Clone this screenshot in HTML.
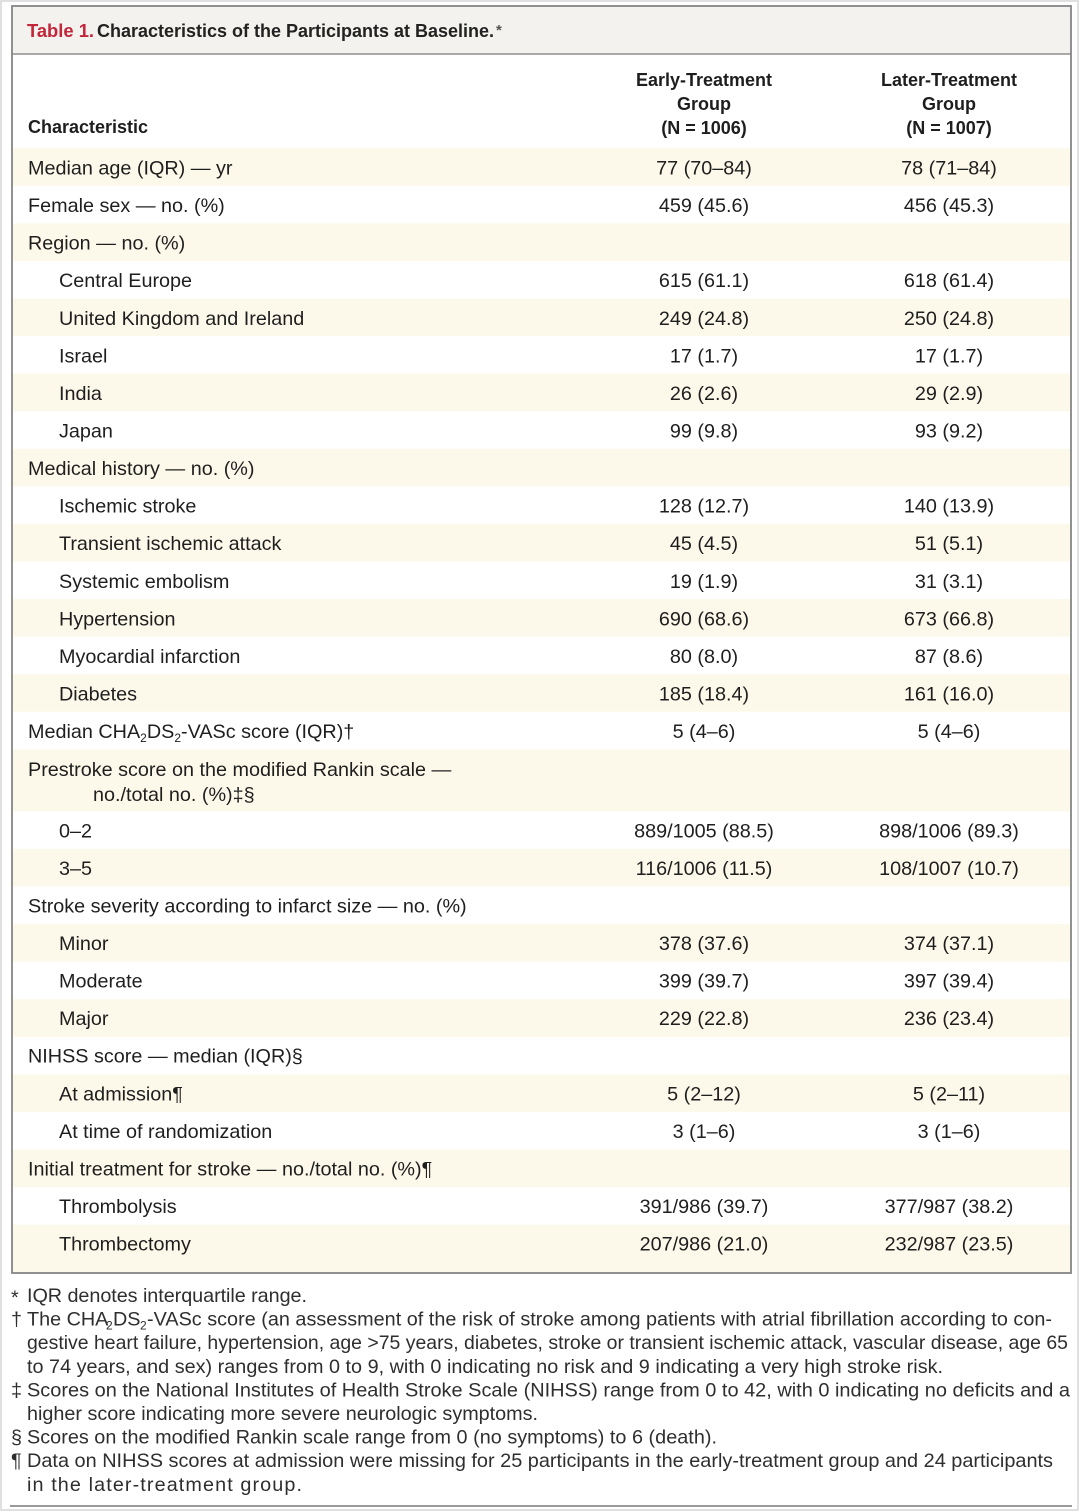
<!DOCTYPE html>
<html>
<head>
<meta charset="utf-8">
<style>
  html, body { margin:0; padding:0; background:#ffffff; }
  body { width:1080px; height:1512px; overflow:hidden; }
  svg { display:block; }
  text { font-family: "Liberation Sans", "DejaVu Sans", sans-serif; }
</style>
</head>
<body>
<svg width="1080" height="1512" viewBox="0 0 1080 1512" xmlns="http://www.w3.org/2000/svg">
  <!-- outer faint frame -->
  <rect x="1" y="1" width="1077" height="1509" fill="#ffffff" stroke="#d6d6d6" stroke-width="1.5"/>

  <!-- row stripes (cream) -->
  <g fill="#fdf9ea">
    <rect x="13" y="148.2" width="1057" height="37.6"/>
    <rect x="13" y="223.3" width="1057" height="37.6"/>
    <rect x="13" y="298.5" width="1057" height="37.6"/>
    <rect x="13" y="373.6" width="1057" height="37.6"/>
    <rect x="13" y="448.8" width="1057" height="37.6"/>
    <rect x="13" y="523.9" width="1057" height="37.6"/>
    <rect x="13" y="599.0" width="1057" height="37.6"/>
    <rect x="13" y="674.2" width="1057" height="37.6"/>
    <rect x="13" y="749.3" width="1057" height="62.0"/>
    <rect x="13" y="848.9" width="1057" height="37.6"/>
    <rect x="13" y="924.0" width="1057" height="37.6"/>
    <rect x="13" y="999.2" width="1057" height="37.6"/>
    <rect x="13" y="1074.3" width="1057" height="37.6"/>
    <rect x="13" y="1149.5" width="1057" height="37.6"/>
    <rect x="13" y="1224.6" width="1057" height="48.4"/>
  </g>

  <!-- title band -->
  <rect x="12" y="6" width="1059" height="48" fill="#f4f2ee"/>
  <line x1="12" y1="54" x2="1071" y2="54" stroke="#8e8e8e" stroke-width="1.5"/>
  <!-- table box -->
  <rect x="12" y="6" width="1059" height="1267" fill="none" stroke="#858585" stroke-width="1.8"/>

  <!-- title -->
  <text x="27" y="37" font-size="18.5" font-weight="bold" fill="#c3263b" textLength="67" lengthAdjust="spacingAndGlyphs">Table 1.</text>
  <text x="97" y="37" font-size="18.5" font-weight="bold" fill="#222" textLength="397" lengthAdjust="spacingAndGlyphs">Characteristics of the Participants at Baseline.</text>
  <text x="496" y="35" font-size="15" font-weight="bold" fill="#555">*</text>

  <!-- header -->
  <g font-size="18" font-weight="bold" fill="#1e1e1e">
    <text x="28" y="133">Characteristic</text>
    <text x="704" y="86" text-anchor="middle">Early-Treatment</text>
    <text x="704" y="110" text-anchor="middle">Group</text>
    <text x="704" y="134" text-anchor="middle">(N = 1006)</text>
    <text x="949" y="86" text-anchor="middle">Later-Treatment</text>
    <text x="949" y="110" text-anchor="middle">Group</text>
    <text x="949" y="134" text-anchor="middle">(N = 1007)</text>
  </g>

  <!-- body -->
  <g font-size="19.8" fill="#1e1e1e">
    <text x="28" y="174.5">Median age (IQR) — yr</text>
    <text x="704" y="174.5" text-anchor="middle">77 (70–84)</text>
    <text x="949" y="174.5" text-anchor="middle">78 (71–84)</text>

    <text x="28" y="212.1">Female sex — no. (%)</text>
    <text x="704" y="212.1" text-anchor="middle">459 (45.6)</text>
    <text x="949" y="212.1" text-anchor="middle">456 (45.3)</text>

    <text x="28" y="249.6">Region — no. (%)</text>

    <text x="59" y="287.2">Central Europe</text>
    <text x="704" y="287.2" text-anchor="middle">615 (61.1)</text>
    <text x="949" y="287.2" text-anchor="middle">618 (61.4)</text>

    <text x="59" y="324.8">United Kingdom and Ireland</text>
    <text x="704" y="324.8" text-anchor="middle">249 (24.8)</text>
    <text x="949" y="324.8" text-anchor="middle">250 (24.8)</text>

    <text x="59" y="362.4">Israel</text>
    <text x="704" y="362.4" text-anchor="middle">17 (1.7)</text>
    <text x="949" y="362.4" text-anchor="middle">17 (1.7)</text>

    <text x="59" y="399.9">India</text>
    <text x="704" y="399.9" text-anchor="middle">26 (2.6)</text>
    <text x="949" y="399.9" text-anchor="middle">29 (2.9)</text>

    <text x="59" y="437.5">Japan</text>
    <text x="704" y="437.5" text-anchor="middle">99 (9.8)</text>
    <text x="949" y="437.5" text-anchor="middle">93 (9.2)</text>

    <text x="28" y="475.1">Medical history — no. (%)</text>

    <text x="59" y="512.6">Ischemic stroke</text>
    <text x="704" y="512.6" text-anchor="middle">128 (12.7)</text>
    <text x="949" y="512.6" text-anchor="middle">140 (13.9)</text>

    <text x="59" y="550.2">Transient ischemic attack</text>
    <text x="704" y="550.2" text-anchor="middle">45 (4.5)</text>
    <text x="949" y="550.2" text-anchor="middle">51 (5.1)</text>

    <text x="59" y="587.8">Systemic embolism</text>
    <text x="704" y="587.8" text-anchor="middle">19 (1.9)</text>
    <text x="949" y="587.8" text-anchor="middle">31 (3.1)</text>

    <text x="59" y="625.3">Hypertension</text>
    <text x="704" y="625.3" text-anchor="middle">690 (68.6)</text>
    <text x="949" y="625.3" text-anchor="middle">673 (66.8)</text>

    <text x="59" y="662.9">Myocardial infarction</text>
    <text x="704" y="662.9" text-anchor="middle">80 (8.0)</text>
    <text x="949" y="662.9" text-anchor="middle">87 (8.6)</text>

    <text x="59" y="700.5">Diabetes</text>
    <text x="704" y="700.5" text-anchor="middle">185 (18.4)</text>
    <text x="949" y="700.5" text-anchor="middle">161 (16.0)</text>

    <text x="28" y="738.1">Median CHA<tspan font-size="12" dy="4">2</tspan><tspan dy="-4">DS</tspan><tspan font-size="12" dy="4">2</tspan><tspan dy="-4">-VASc score (IQR)†</tspan></text>
    <text x="704" y="738.1" text-anchor="middle">5 (4–6)</text>
    <text x="949" y="738.1" text-anchor="middle">5 (4–6)</text>

    <text x="28" y="776">Prestroke score on the modified Rankin scale —</text>
    <text x="93" y="801">no./total no. (%)‡§</text>

    <text x="59" y="837.3">0–2</text>
    <text x="704" y="837.3" text-anchor="middle">889/1005 (88.5)</text>
    <text x="949" y="837.3" text-anchor="middle">898/1006 (89.3)</text>

    <text x="59" y="874.9">3–5</text>
    <text x="704" y="874.9" text-anchor="middle">116/1006 (11.5)</text>
    <text x="949" y="874.9" text-anchor="middle">108/1007 (10.7)</text>

    <text x="28" y="912.4">Stroke severity according to infarct size — no. (%)</text>

    <text x="59" y="950.0">Minor</text>
    <text x="704" y="950.0" text-anchor="middle">378 (37.6)</text>
    <text x="949" y="950.0" text-anchor="middle">374 (37.1)</text>

    <text x="59" y="987.6">Moderate</text>
    <text x="704" y="987.6" text-anchor="middle">399 (39.7)</text>
    <text x="949" y="987.6" text-anchor="middle">397 (39.4)</text>

    <text x="59" y="1025.2">Major</text>
    <text x="704" y="1025.2" text-anchor="middle">229 (22.8)</text>
    <text x="949" y="1025.2" text-anchor="middle">236 (23.4)</text>

    <text x="28" y="1062.7">NIHSS score — median (IQR)§</text>

    <text x="59" y="1100.3">At admission¶</text>
    <text x="704" y="1100.3" text-anchor="middle">5 (2–12)</text>
    <text x="949" y="1100.3" text-anchor="middle">5 (2–11)</text>

    <text x="59" y="1137.9">At time of randomization</text>
    <text x="704" y="1137.9" text-anchor="middle">3 (1–6)</text>
    <text x="949" y="1137.9" text-anchor="middle">3 (1–6)</text>

    <text x="28" y="1175.4">Initial treatment for stroke — no./total no. (%)¶</text>

    <text x="59" y="1213.0">Thrombolysis</text>
    <text x="704" y="1213.0" text-anchor="middle">391/986 (39.7)</text>
    <text x="949" y="1213.0" text-anchor="middle">377/987 (38.2)</text>

    <text x="59" y="1250.6">Thrombectomy</text>
    <text x="704" y="1250.6" text-anchor="middle">207/986 (21.0)</text>
    <text x="949" y="1250.6" text-anchor="middle">232/987 (23.5)</text>
  </g>

  <!-- footnotes -->
  <g font-size="19.8" fill="#2e2e2e">
    <text x="11" y="1304">*</text>
    <text x="27" y="1302" textLength="280" lengthAdjust="spacing">IQR denotes interquartile range.</text>

    <text x="11" y="1325.6">†</text>
    <text x="27" y="1325.6">The CHA</text>
    <text x="106" y="1329.6" font-size="12">2</text>
    <text x="113" y="1325.6">DS</text>
    <text x="140" y="1329.6" font-size="12">2</text>
    <text x="147" y="1325.6" textLength="905" lengthAdjust="spacing">-VASc score (an assessment of the risk of stroke among patients with atrial fibrillation according to con-</text>

    <text x="27" y="1349.2" textLength="1041" lengthAdjust="spacingAndGlyphs">gestive heart failure, hypertension, age &gt;75 years, diabetes, stroke or transient ischemic attack, vascular disease, age 65</text>
    <text x="27" y="1372.8" textLength="916" lengthAdjust="spacing">to 74 years, and sex) ranges from 0 to 9, with 0 indicating no risk and 9 indicating a very high stroke risk.</text>

    <text x="11" y="1396.4">‡</text>
    <text x="27" y="1396.4" textLength="1043" lengthAdjust="spacingAndGlyphs">Scores on the National Institutes of Health Stroke Scale (NIHSS) range from 0 to 42, with 0 indicating no deficits and a</text>
    <text x="27" y="1420" textLength="511" lengthAdjust="spacing">higher score indicating more severe neurologic symptoms.</text>

    <text x="11" y="1443.6">§</text>
    <text x="27" y="1443.6" textLength="690" lengthAdjust="spacing">Scores on the modified Rankin scale range from 0 (no symptoms) to 6 (death).</text>

    <text x="11" y="1467.2">¶</text>
    <text x="27" y="1467.2" textLength="1026" lengthAdjust="spacingAndGlyphs">Data on NIHSS scores at admission were missing for 25 participants in the early-treatment group and 24 participants</text>
    <text x="27" y="1490.8" textLength="275" lengthAdjust="spacing">in the later-treatment group.</text>
  </g>

  <!-- bottom rule -->
  <line x1="10" y1="1506" x2="1072" y2="1506" stroke="#9a9a9a" stroke-width="2"/>
</svg>
</body>
</html>
